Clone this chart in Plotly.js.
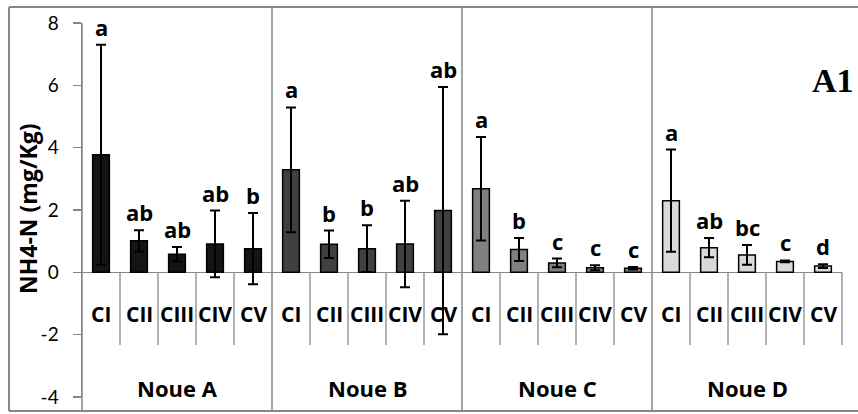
<!DOCTYPE html>
<html>
<head>
<meta charset="utf-8">
<script src="https://cdn.plot.ly/plotly-3.0.1.min.js"></script>
<style>
html,body{margin:0;padding:0;background:#fff;}
#chart{width:858px;height:414px;}
</style>
</head>
<body>
<div id="chart"></div>
<script>
// ---- data ----
const groups = ['Noue A', 'Noue B', 'Noue C', 'Noue D'];
const classes = ['CI', 'CII', 'CIII', 'CIV', 'CV'];
const meanA = [3.77, 1.01, 0.58, 0.91, 0.76];
const errA  = [3.53, 0.34, 0.23, 1.07, 1.14];
const lettersA = ['a', 'ab', 'ab', 'ab', 'b'];
const meanB = [3.29, 0.90, 0.76, 0.91, 1.98];
const errB  = [2.00, 0.44, 0.75, 1.39, 3.97];
const lettersB = ['a', 'b', 'b', 'ab', 'ab'];
const meanC = [2.68, 0.73, 0.30, 0.15, 0.13];
const errC  = [1.66, 0.37, 0.14, 0.08, 0.04];
const lettersC = ['a', 'b', 'c', 'c', 'c'];
const meanD = [2.30, 0.79, 0.56, 0.35, 0.20];
const errD  = [1.64, 0.31, 0.32, 0.03, 0.06];
const lettersD = ['a', 'ab', 'bc', 'c', 'd'];
const yTickVals = [-4, -2, 0, 2, 4, 6, 8];
const yTickText = ['-4', '-2', '0', '2', '4', '6', '8'];
const yTitle = 'NH4-N (mg/Kg)';
const panelLabel = 'A1';

// ---- styling ----
const groupColors = ['#141414', '#404040', '#808080', '#d9d9d9'];
const gridGray = '#868686';
const W = 858, H = 414;
const M = {l: 82, r: 16, t: 23, b: 17};
const PW = W - M.l - M.r, PH = H - M.t - M.b;
const pX = px => (px - M.l) / PW;
const pY = py => (H - M.b - py) / PH;
const FONT = 'Lato, "Open Sans", sans-serif';
const BFONT = '"Open Sans", "DejaVu Sans", sans-serif';
const B = s => '<b>' + s + '</b>';

const means = [meanA, meanB, meanC, meanD];
const errs = [errA, errB, errC, errD];
const letters = [lettersA, lettersB, lettersC, lettersD];
const nC = classes.length;
const nTot = groups.length * nC;

const traces = groups.map((g, gi) => ({
  type: 'bar',
  name: g,
  x: classes.map((c, ci) => gi * nC + ci),
  y: means[gi],
  width: 0.44,
  marker: {color: groupColors[gi], line: {color: '#000', width: 1.5}},
  error_y: {type: 'data', array: errs[gi], visible: true, color: '#000', thickness: 2, width: 5},
  hoverinfo: 'y',
  showlegend: false
}));

const annotations = [];
groups.forEach((g, gi) => {
  classes.forEach((c, ci) => {
    const xi = gi * nC + ci;
    annotations.push({
      xref: 'x', yref: 'y', x: xi, y: means[gi][ci] + errs[gi][ci],
      text: B(letters[gi][ci]), showarrow: false, yanchor: 'bottom', yshift: 1,
      font: {family: BFONT, size: 22, color: '#000'}
    });
    annotations.push({
      xref: 'x', yref: 'y', x: xi, y: -1.34,
      text: B(c), showarrow: false, yanchor: 'middle',
      font: {family: BFONT, size: 21, color: '#000'}
    });
  });
  annotations.push({
    xref: 'x', yref: 'y', x: gi * nC + (nC - 1) / 2, y: -3.70,
    text: B(g), showarrow: false, yanchor: 'middle',
    font: {family: BFONT, size: 22, color: '#000'}
  });
});
annotations.push({
  xref: 'paper', yref: 'paper', x: pX(856), y: pY(80), xanchor: 'right', yanchor: 'middle',
  text: B(panelLabel), showarrow: false,
  font: {family: '"Liberation Serif", "Times New Roman", serif', size: 34, color: '#000'}
});
// y-axis title (placed as rotated annotation for exact position)
annotations.push({
  xref: 'paper', yref: 'paper', x: pX(28), y: pY(209), xanchor: 'center', yanchor: 'middle',
  text: B(yTitle), showarrow: false, textangle: -90,
  font: {family: BFONT, size: 23, color: '#000'}
});

const shapes = [];
const line = (x0, y0, x1, y1, w, c) => shapes.push({
  type: 'line', xref: 'paper', yref: 'paper', x0, y0, x1, y1, layer: 'below',
  line: {color: c || gridGray, width: w || 1.5}
});
// outer frame (top, left, bottom)
line(pX(9), pY(7), pX(W + 5), pY(7), 2);
line(pX(9), pY(7), pX(9), pY(411), 2);
line(pX(9), pY(411), pX(W + 5), pY(411), 2);
// category axis lines
const zeroP = pY(272.3);
const tickBottom = pY(345);
for (let k = 0; k <= nTot; k++) {
  const xp = k / nTot;
  if (k === 0) {
    line(xp, 1, xp, pY(411), 1.5);
  } else if (k % nC === 0 && k < nTot) {
    line(xp, pY(7), xp, pY(411), 1.5);
  } else {
    line(xp, zeroP, xp, tickBottom, 1.5, '#9a9a9a');
  }
}

const layout = {
  width: W, height: H,
  margin: M,
  paper_bgcolor: '#fff', plot_bgcolor: 'rgba(0,0,0,0)',
  xaxis: {range: [-0.5, nTot - 0.5], showticklabels: false, ticks: '', showline: false,
          zeroline: false, showgrid: false, fixedrange: true},
  yaxis: {range: [-4, 8], tickvals: yTickVals, ticktext: yTickText, ticks: 'outside', ticklen: 8,
          tickcolor: gridGray, tickwidth: 1.5, showline: true, linecolor: gridGray, linewidth: 1.5,
          zeroline: true, zerolinecolor: gridGray, zerolinewidth: 1.5, showgrid: false,
          ticklabelstandoff: 10,
          tickfont: {family: FONT, size: 19, color: '#000'},
          title: {text: ''},
          automargin: false, fixedrange: true},
  annotations, shapes,
  font: {family: FONT}
};

Plotly.newPlot('chart', traces, layout, {displayModeBar: false, staticPlot: true});
</script>
</body>
</html>
